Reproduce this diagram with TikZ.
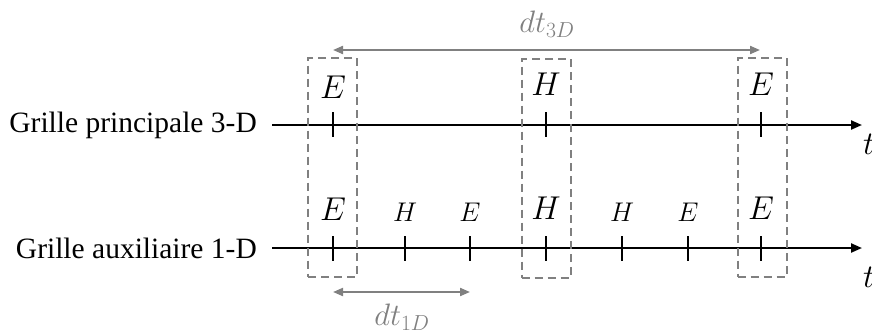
\RequirePackage{fix-cm}
\documentclass[tikz,border=0pt]{standalone}
\usepackage{fontspec}
\setmainfont{Liberation Serif}
\usetikzlibrary{arrows.meta}
\definecolor{dgray}{RGB}{128,128,128}
\tikzset{
  axis/.style={line width=2.2pt,-{Triangle[length=11pt,width=9pt]}},
  tick/.style={line width=2.2pt},
  dbox/.style={draw=dgray,line width=2pt,dash pattern=on 8pt off 5pt,inner sep=0pt,minimum width=49pt,minimum height=219pt},
  dtarrow/.style={draw=dgray,line width=2pt,{Triangle[length=10pt,width=8pt]}-{Triangle[length=10pt,width=8pt]}},
  glabel/.style={anchor=east,font=\fontsize{29.5}{32}\selectfont,inner sep=0pt},
  big/.style={font=\fontsize{33}{36}\selectfont,inner sep=0pt},
  small/.style={font=\fontsize{27}{30}\selectfont,inner sep=0pt},
  dtlabel/.style={text=dgray,font=\fontsize{31}{34}\selectfont,inner sep=0pt}
}
\begin{document}
\begin{tikzpicture}[x=1pt,y=-1pt]
\useasboundingbox (0,0) rectangle (872,333);
% labels
\node[glabel] (g3) at (257,125) {Grille principale 3-D};
\node[glabel] (g1) at (257,248) {Grille auxiliaire 1-D};
% axes
\coordinate (a3s) at (272,125);
\coordinate (a3e) at (862,125);
\coordinate (a1s) at (272,248);
\coordinate (a1e) at (862,248);
\draw[axis] (a3s) -- (a3e);
\draw[axis] (a1s) -- (a1e);
\node[big,anchor=north west] (t3) at (863,134) {$t$};
\node[big,anchor=north west] (t1) at (863,267) {$t$};
% top ticks
\foreach \x in {333,546,761}{
  \draw[tick] (\x,112) -- (\x,137);
}
\node[big] (e3a) at (333,87) {$E$};
\node[big] (h3b) at (546,84) {$H$};
\node[big] (e3c) at (761,84) {$E$};
% bottom ticks
\foreach \x in {333,405,470,546,622,688,761}{
  \draw[tick] (\x,236) -- (\x,261);
}
\node[big] (e1a) at (333,209) {$E$};
\node[small] (h1a) at (405,212) {$H$};
\node[small] (e1b) at (470,212) {$E$};
\node[big] (h1b) at (546,208) {$H$};
\node[small] (h1c) at (622,212) {$H$};
\node[small] (e1c) at (688,212) {$E$};
\node[big] (e1d) at (761,208) {$E$};
% dashed boxes
\node[dbox] (b1) at (332.5,167) {};
\node[dbox] (b2) at (546,168) {};
\node[dbox] (b3) at (762,167) {};
% dt arrows
\coordinate (d3s) at (333,50);
\coordinate (d3e) at (760,50);
\draw[dtarrow] (d3s) -- (d3e);
\node[dtlabel] (dt3) at (547,24) {$dt_{3D}$};
\coordinate (d1s) at (333,292);
\coordinate (d1e) at (470,292);
\draw[dtarrow] (d1s) -- (d1e);
\node[dtlabel] (dt1) at (402,317) {$dt_{1D}$};
\end{tikzpicture}
\end{document}
